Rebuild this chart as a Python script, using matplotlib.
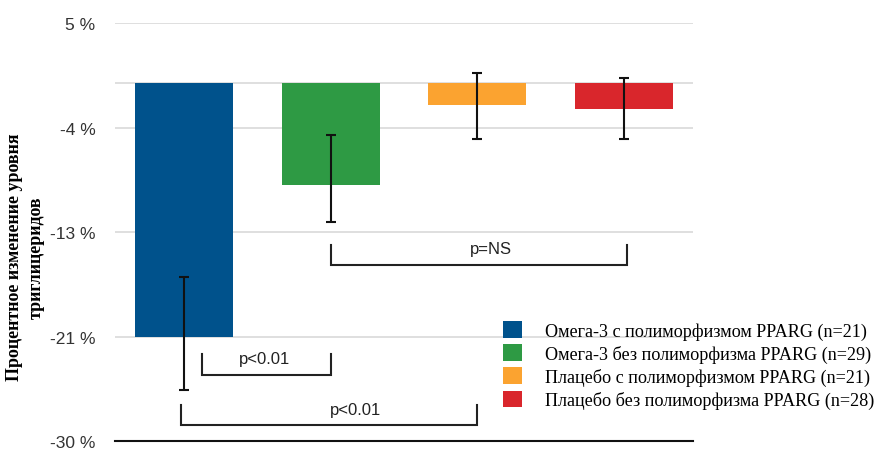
import matplotlib.pyplot as plt
from matplotlib.patches import Patch

# Data
groups = [
    'Омега-3 с полиморфизмом PPARG (n=21)',
    'Омега-3 без полиморфизма PPARG (n=29)',
    'Плацебо с полиморфизмом PPARG (n=21)',
    'Плацебо без полиморфизма PPARG (n=28)',
]
mean_change = [-21.3, -8.6, -1.9, -2.2]
err_low = [-25.7, -11.7, -4.7, -4.7]
err_high = [-16.3, -4.35, 0.85, 0.4]
colors = ['#00528C', '#2E9A44', '#FBA330', '#D9262C']

tick_values = [5, -3.75, -12.5, -21.25, -30]
tick_labels = ['5 %', '-4 %', '-13 %', '-21 %', '-30 %']

# significance brackets: x from, x to, tick top, line y, label, label x, label y
brackets = [
    (1.0, 3.02, -13.6, -15.3, 'p=NS', 2.09, -13.9),
    (0.12, 1.0, -22.7, -24.45, 'p<0.01', 0.55, -23.1),
    (-0.02, 2.0, -27.0, -28.7, 'p<0.01', 1.17, -27.4),
]

fig = plt.figure(figsize=(8.8, 4.52), dpi=100)
ax = fig.add_axes([0.1307, 0.0221, 0.6568, 0.9248])

x = list(range(len(groups)))
yerr = [[m - lo for m, lo in zip(mean_change, err_low)],
        [hi - m for m, hi in zip(mean_change, err_high)]]

grid_color = '#dcdcdc'
for t in tick_values[:-1] + [0]:
    ax.axhline(t, color=grid_color, lw=1.3, zorder=0)

ax.bar(x, mean_change, width=0.67, color=colors, zorder=2)
ax.errorbar(x, mean_change, yerr=yerr, fmt='none', ecolor='#111111',
            elinewidth=1.5, capsize=3.6, capthick=1.5, zorder=3)

for x1, x2, ytop, yline, label, tx, ty in brackets:
    ax.plot([x1, x1, x2, x2], [ytop, yline, yline, ytop], color='#222222',
            lw=1.5, zorder=3, solid_joinstyle='miter')
    ax.text(tx, ty, label, ha='center', va='center', fontsize=12,
            family='Liberation Sans', color='#222222')

ax.set_xlim(-0.47, 3.47)
ax.set_ylim(-30, 5)
ax.set_yticks(tick_values)
ax.set_yticklabels(tick_labels, fontsize=12.5, family='Liberation Sans', color='#333333')
ax.tick_params(axis='y', length=0, pad=14)
ax.set_xticks([])
for side in ['top', 'right', 'left']:
    ax.spines[side].set_visible(False)
ax.spines['bottom'].set_color('#111111')
ax.spines['bottom'].set_linewidth(1.5)

fig.text(0.029, 0.43, 'Процентное изменение уровня\nтриглицеридов', rotation=90,
         ha='center', va='center', multialignment='center', fontsize=13,
         family='Liberation Serif', fontweight='bold', linespacing=1.35)

handles = [Patch(facecolor=c) for c in colors]
fig.legend(handles, groups, loc='upper left', bbox_to_anchor=(0.572, 0.288),
           frameon=False, prop={'family': 'Liberation Serif', 'size': 13.1},
           handlelength=1.05, handleheight=1.05, handletextpad=1.25,
           labelspacing=0.25, borderpad=0, borderaxespad=0)

plt.savefig('out.png', dpi=100)
